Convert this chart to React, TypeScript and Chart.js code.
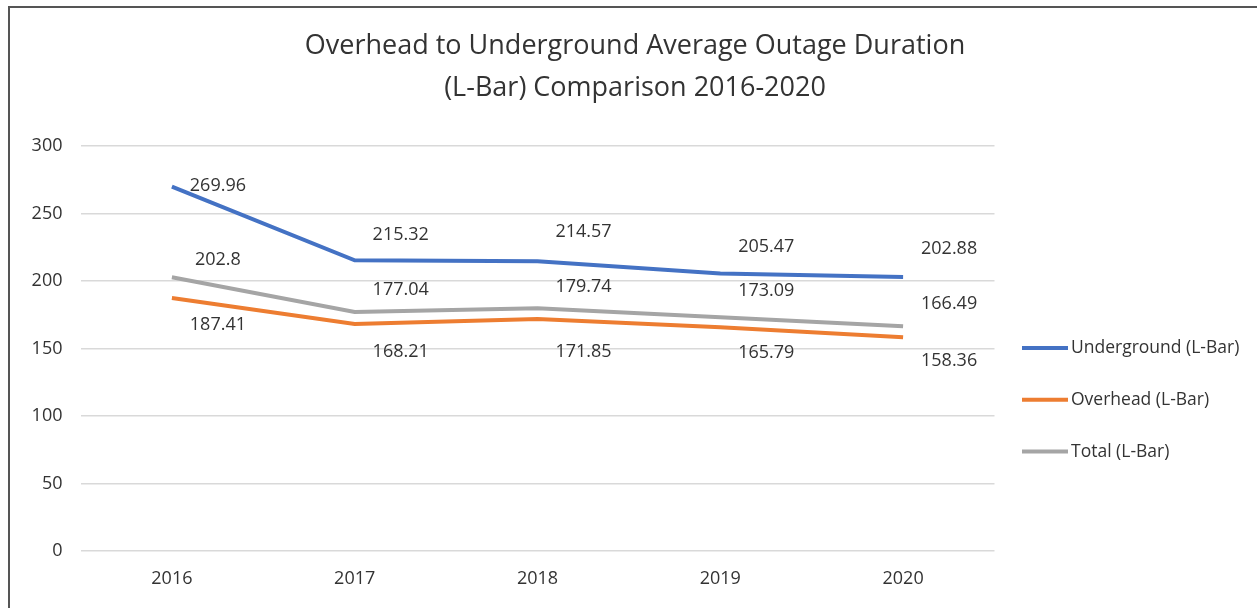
import React, { useEffect, useRef } from "react";
import { Chart, registerables } from "chart.js";

Chart.register(...registerables);

const categories = ["2016", "2017", "2018", "2019", "2020"];
const undergroundValues = [269.96, 215.32, 214.57, 205.47, 202.88];
const overheadValues = [187.41, 168.21, 171.85, 165.79, 158.36];
const totalValues = [202.8, 177.04, 179.74, 173.09, 166.49];
const seriesNames = ["Underground (L-Bar)", "Overhead (L-Bar)", "Total (L-Bar)"];
const titleLines = [
  "Overhead to Underground Average Outage Duration",
  "(L-Bar) Comparison 2016-2020",
];

// label placement (pixel offsets from each point), kept separate from data
const labelDx = 46;
const labelDy: number[][] = [
  [-1, -25, -29, -27, -28],
  [27, 28, 33, 26, 24],
  [-17, -22, -21, -26, -22],
];

const FONT = "'Open Sans', 'Liberation Sans', sans-serif";

const customPlugin = {
  id: "customDraw",
  afterDraw(chart: any) {
    const ctx = chart.ctx;
    ctx.save();
    // Title
    ctx.fillStyle = "#333333";
    ctx.font = `27px ${FONT}`;
    ctx.textAlign = "center";
    ctx.textBaseline = "middle";
    ctx.fillText(titleLines[0], 625, 38);
    ctx.fillText(titleLines[1], 625, 80);

    // Data labels
    ctx.font = `18px ${FONT}`;
    ctx.fillStyle = "#333333";
    chart.data.datasets.forEach((ds: any, i: number) => {
      const meta = chart.getDatasetMeta(i);
      meta.data.forEach((pt: any, j: number) => {
        const v = ds.data[j];
        ctx.fillText(String(v), pt.x + labelDx, pt.y + labelDy[i][j]);
      });
    });

    // Legend
    ctx.textAlign = "left";
    ctx.font = `17.5px ${FONT}`;
    chart.data.datasets.forEach((ds: any, i: number) => {
      const y = 340 + i * 51.8;
      ctx.strokeStyle = ds.borderColor;
      ctx.lineWidth = 4;
      ctx.beginPath();
      ctx.moveTo(1012, y);
      ctx.lineTo(1058, y);
      ctx.stroke();
      ctx.fillStyle = "#333333";
      ctx.fillText(ds.label, 1061, y);
    });
    ctx.restore();
  },
};

export default function App() {
  const ref = useRef<HTMLCanvasElement | null>(null);
  useEffect(() => {
    if (!ref.current) return;
    const mk = (label: string, data: number[], color: string) => ({
      label,
      data,
      borderColor: color,
      backgroundColor: color,
      borderWidth: 4,
      pointRadius: 0,
      tension: 0,
    });
    const chart = new Chart(ref.current, {
      type: "line",
      data: {
        labels: categories,
        datasets: [
          mk(seriesNames[0], undergroundValues, "#4472C4"),
          mk(seriesNames[1], overheadValues, "#ED7D31"),
          mk(seriesNames[2], totalValues, "#A5A5A5"),
        ],
      },
      options: {
        animation: false,
        responsive: false,
        layout: { padding: { top: 138, right: 262.5, left: 0, bottom: 0 } },
        plugins: {
          legend: { display: false },
          title: { display: false },
          tooltip: { enabled: false },
        },
        scales: {
          x: {
            offset: true,
            grid: { display: false, drawTicks: false },
            border: { display: false },
            ticks: {
              color: "#333333",
              font: { family: FONT, size: 18 },
              padding: 17,
            },
            afterFit(scale: any) {
              scale.height = 57;
            },
          },
          y: {
            min: 0,
            max: 300,
            ticks: {
              stepSize: 50,
              color: "#333333",
              font: { family: FONT, size: 18 },
              padding: 18,
            },
            grid: { color: "#d9d9d9", lineWidth: 1.5, drawTicks: false },
            border: { display: false },
            afterFit(scale: any) {
              scale.width = 70.5;
            },
          },
        },
      },
      plugins: [customPlugin],
    });
    return () => chart.destroy();
  }, []);

  return (
    <div
      style={{
        position: "absolute",
        top: 6,
        left: 8,
        borderTop: "2px solid #555",
        borderLeft: "2px solid #555",
        width: 1247,
        height: 600,
        background: "#fff",
        overflow: "hidden",
      }}
    >
      <canvas ref={ref} width={1247} height={600} style={{ display: "block" }} />
    </div>
  );
}
